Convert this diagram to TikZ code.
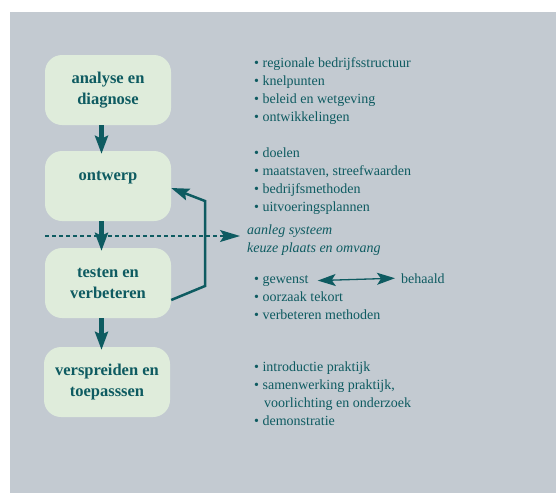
\documentclass[tikz,border=0pt]{standalone}
\usepackage{fontspec}
\setmainfont{Liberation Serif}
\usetikzlibrary{arrows.meta}
\definecolor{bggray}{HTML}{C3CAD1}
\definecolor{boxgreen}{HTML}{DFECDB}
\definecolor{dkteal}{HTML}{0E5B61}

\begin{document}
\begin{tikzpicture}[x=1pt,y=-1pt,
    stage/.style={fill=boxgreen,rounded corners=17pt,minimum width=126pt,minimum height=70pt,
        inner sep=0pt,align=center,text=dkteal,font=\fontsize{16.5}{21}\selectfont\bfseries},
    item/.style={anchor=base west,inner sep=0pt,text=dkteal,font=\fontsize{14}{18}\selectfont},
    flow/.style={draw=dkteal,line width=5pt,-{Stealth[length=18pt,width=13pt,inset=3pt]}},
    cut/.style={draw=dkteal,line width=1.3pt,dash pattern=on 4pt off 3pt,
        -{Stealth[length=20pt,width=12pt,inset=4pt]}},
    back/.style={draw=dkteal,line width=2.5pt,-{Stealth[length=18pt,width=12pt,inset=3pt]}},
    pair/.style={draw=dkteal,line width=1.3pt,{Stealth[length=18pt,width=12pt,inset=4pt]}-{Stealth[length=18pt,width=12pt,inset=4pt]}}]
    \useasboundingbox (0,0) rectangle (556,493);
    \fill[bggray] (10,12) rectangle (556,493);
    % stages
    \node[stage] (b1) at (108,90) {analyse en\\diagnose};
    \node[stage] (b2) at (108,186) {ontwerp\\\mbox{}};
    \node[stage] (b3) at (108,283) {testen en\\verbeteren};
    \node[stage] (b4) at (107,382) {verspreiden en\\toepasssen};
    \draw[flow] ([xshift=-6.5pt]b1.south) -- ([xshift=-6.5pt,yshift=-3pt]b2.north);
    \draw[flow] ([xshift=-6.5pt]b2.south) -- ([xshift=-6.5pt,yshift=-3pt]b3.north);
    \draw[flow] ([xshift=-6.5pt]b3.south) -- ([xshift=-5.5pt,yshift=-3pt]b4.north);
    % bullet lists
    \foreach \y/\t [count=\i] in {67/regionale bedrijfsstructuur,85/knelpunten,
            103/beleid en wetgeving,121/ontwikkelingen}
        \node[item] (la\i) at (254,\y) {\textbullet\ \t};
    \foreach \y/\t [count=\i] in {157/doelen,175/{maatstaven, streefwaarden},
            193/bedrijfsmethoden,211/uitvoeringsplannen}
        \node[item] (lb\i) at (254,\y) {\textbullet\ \t};
    \foreach \y/\t [count=\i] in {283/gewenst,301/oorzaak tekort,319/verbeteren methoden}
        \node[item] (lc\i) at (254,\y) {\textbullet\ \t};
    \node[item] (bh) at (401,283) {behaald};
    \foreach \y/\t [count=\i] in {371/introductie praktijk,389/{samenwerking praktijk,},
            425/demonstratie}
        \node[item] (ld\i) at (254,\y) {\textbullet\ \t};
    \node[item] (ld4) at (264,407) {voorlichting en onderzoek};
    \draw[pair] ([xshift=9pt]lc1.east) -- ([xshift=-6pt]bh.west);
    % aanleg
    \node[item,font=\fontsize{14}{18}\selectfont\itshape] (sys1) at (247,234) {aanleg systeem};
    \node[item,font=\fontsize{14}{18}\selectfont\itshape] (sys2) at (247,252) {keuze plaats en omvang};
    \coordinate (d0) at (45,236);
    \draw[cut] (d0) -- ([xshift=-7pt]d0 -| sys1.west);
    % feedback
    \coordinate (fb1) at (205,286);
    \coordinate (fb2) at (205,201);
    \draw[back] ([yshift=-17pt]b3.east) -- (fb1) -- (fb2) -- ([yshift=-2pt]b2.east);
\end{tikzpicture}
\end{document}
